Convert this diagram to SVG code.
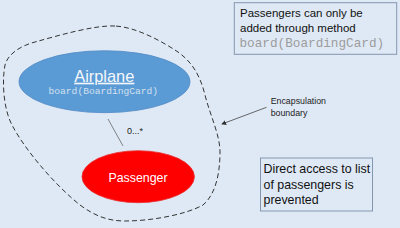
<svg xmlns="http://www.w3.org/2000/svg" width="400" height="228" viewBox="0 0 400 228">
<style>
.sans{font-family:"Liberation Sans",Arial,sans-serif}
.mono{font-family:"Liberation Mono","Courier New",monospace}
.box{fill:none;stroke:#8497b0;stroke-width:1}
.note{font-size:11.5px;fill:#111}
.note2{font-size:12.4px;fill:#111}
</style>
<defs>
<marker id="ah" viewBox="0 0 6 6" refX="5" refY="3" markerWidth="5" markerHeight="5" orient="auto" markerUnits="userSpaceOnUse">
<path d="M0,0 L6,3 L0,6 Z" fill="#333"/>
</marker>
</defs>
<rect x="0" y="0" width="400" height="228" fill="#dfe9f5"/>
<path id="boundary" d="M115,26 C95,25 60,35 35,42 C20,46 8,54 5,65 C2,80 3,108 12,125 C25,150 55,185 80,205 C95,216 108,221 125,221 C150,221 185,215 203,205 C215,195 220,175 220,152 C220,135 210,115 205,95 C200,75 192,62 178,52 C160,40 135,27 115,26 Z" fill="none" stroke="#333" stroke-width="1" stroke-dasharray="5,3"/>
<g id="connectors">
<line x1="108" y1="119" x2="123" y2="146" stroke="#555" stroke-width="0.7"/>
<text class="sans" x="127" y="134" font-size="9" fill="#222">0...*</text>
<line x1="266.5" y1="107.3" x2="222" y2="124" stroke="#444" stroke-width="0.8" marker-end="url(#ah)"/>
</g>
<g id="airplane">
<ellipse cx="104.5" cy="81.7" rx="85.5" ry="31" fill="#5b9bd5" stroke="#5089c4" stroke-width="0.8"/>
<text class="sans" x="104.3" y="81.7" font-size="16.4" fill="#f4f7fb" text-anchor="middle" text-decoration="underline">Airplane</text>
<text class="mono" x="103.3" y="94.3" font-size="9.6" fill="#d3e0ef" text-anchor="middle">board(BoardingCard)</text>
</g>
<g id="passenger">
<ellipse cx="138.2" cy="176.7" rx="56.2" ry="26" fill="#ff0000" stroke="#e83030" stroke-width="0.8"/>
<text class="sans" x="138" y="181.7" font-size="12.4" fill="#ffffff" text-anchor="middle">Passenger</text>
</g>
<g id="encapsulation-label">
<text class="sans" x="270.7" y="104" font-size="8.8" fill="#222">Encapsulation</text>
<text class="sans" x="270.7" y="115.7" font-size="8.8" fill="#222">boundary</text>
</g>
<g id="note-board">
<rect class="box" x="234.3" y="2.7" width="162.4" height="51.6"/>
<text class="sans note" x="240" y="17.3">Passengers can only be</text>
<text class="sans note" x="240" y="32.3">added through method</text>
<text class="mono" x="239.5" y="46.5" font-size="12.7" fill="#9c9c9c">board(BoardingCard)</text>
</g>
<g id="note-access">
<rect class="box" x="260.5" y="158" width="112" height="53"/>
<text class="sans note2" x="263.5" y="173">Direct access to list</text>
<text class="sans note2" x="263.5" y="188.5">of passengers is</text>
<text class="sans note2" x="263.5" y="204">prevented</text>
</g>
</svg>
